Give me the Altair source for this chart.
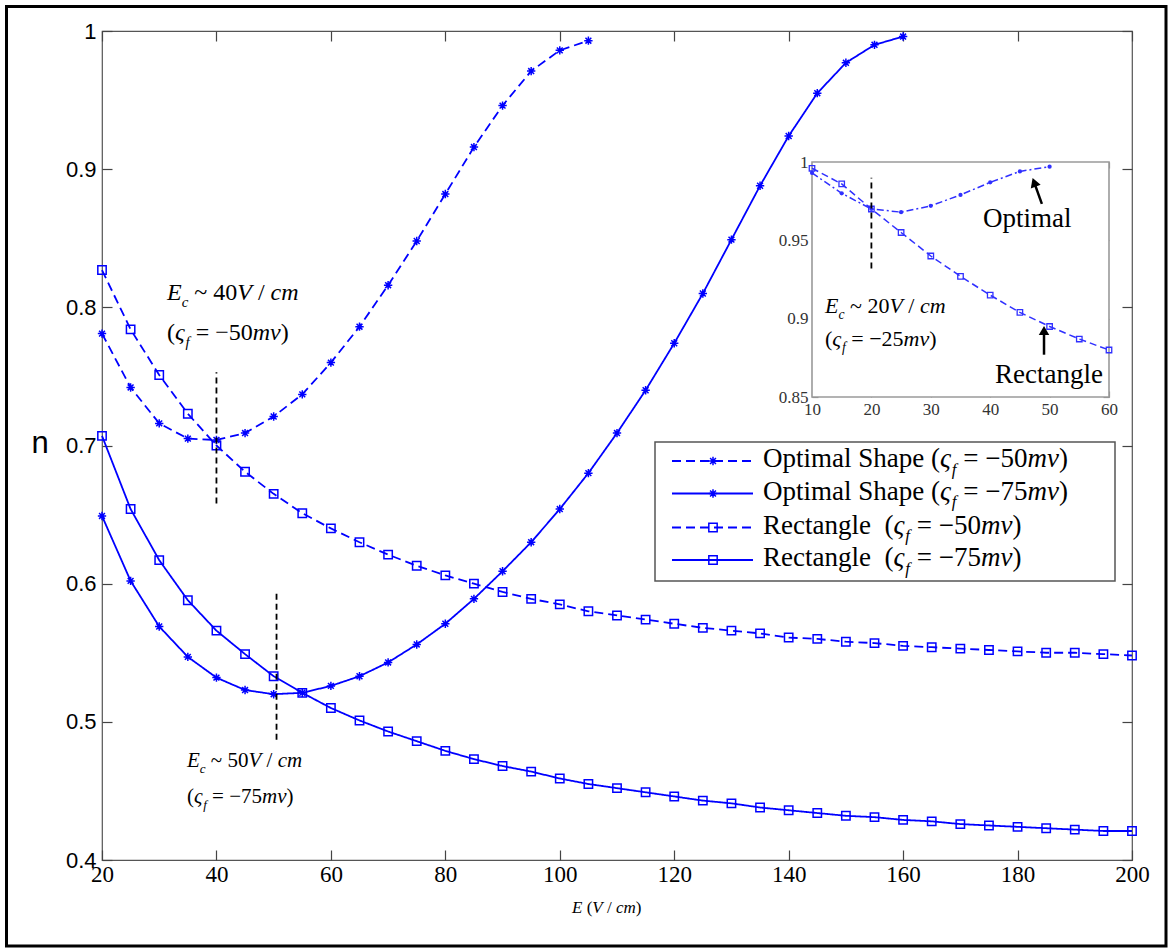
import altair as alt
import pandas as pd

# ---------------------------------------------------------------- data
# electric field E (V/cm) and efficiency n for each geometry / zeta potential
E_OPT_50 = list(range(20, 106, 5))
N_OPT_50 = [0.781, 0.742, 0.716, 0.705, 0.704, 0.709, 0.721, 0.737, 0.760,
            0.786, 0.816, 0.848, 0.882, 0.916, 0.946, 0.971, 0.986, 0.993]

E_OPT_75 = list(range(20, 161, 5))
N_OPT_75 = [0.649, 0.602, 0.569, 0.547, 0.532, 0.523, 0.520, 0.521, 0.526,
            0.533, 0.543, 0.556, 0.571, 0.589, 0.609, 0.630, 0.654, 0.680,
            0.709, 0.740, 0.774, 0.810, 0.849, 0.888, 0.924, 0.955, 0.977,
            0.990, 0.996]

E_RECT = list(range(20, 201, 5))
N_RECT_50 = [0.827, 0.784, 0.751, 0.723, 0.700, 0.681, 0.665, 0.651, 0.640,
             0.630, 0.621, 0.613, 0.606, 0.600, 0.594, 0.589, 0.585, 0.580,
             0.577, 0.574, 0.571, 0.568, 0.566, 0.564, 0.561, 0.560, 0.558,
             0.557, 0.555, 0.554, 0.553, 0.552, 0.551, 0.550, 0.550, 0.549,
             0.548]
N_RECT_75 = [0.707, 0.654, 0.617, 0.588, 0.566, 0.549, 0.533, 0.521, 0.510,
             0.501, 0.493, 0.486, 0.479, 0.473, 0.468, 0.464, 0.459, 0.455,
             0.452, 0.449, 0.446, 0.443, 0.441, 0.438, 0.436, 0.434, 0.432,
             0.431, 0.429, 0.428, 0.426, 0.425, 0.424, 0.423, 0.422, 0.421,
             0.421]

# inset: zeta_f = -25 mV
E_IN_OPT = list(range(10, 51, 5))
N_IN_OPT = [0.993, 0.980, 0.970, 0.968, 0.972, 0.979, 0.987, 0.994, 0.997]
E_IN_RECT = list(range(10, 61, 5))
N_IN_RECT = [0.996, 0.986, 0.970, 0.955, 0.940, 0.927, 0.915, 0.904, 0.895,
             0.887, 0.880]

# axis ticks
X_TICKS = list(range(20, 201, 20))
Y_TICKS = [0.4, 0.5, 0.6, 0.7, 0.8, 0.9, 1.0]
IN_X_TICKS = [10, 20, 30, 40, 50, 60]
IN_Y_TICKS = [0.85, 0.9, 0.95, 1.0]

# critical-field markers (vertical dashed lines)
EC_E = [40, 50.5]
EC_LO = [0.658, 0.487]
EC_HI = [0.753, 0.595]
IN_EC_E = [20]
IN_EC_LO = [0.932]
IN_EC_HI = [0.990]

# inset arrows (tail -> head) pointing at the two curves
ARROW_TAIL_E = [48.7, 49.06]
ARROW_TAIL_N = [0.9733, 0.877]
ARROW_HEAD_E = [47.4, 49.06]
ARROW_HEAD_N = [0.987, 0.8925]
ARROW_ANGLE = [340, 0]

SERIES = [
    ("Optimal Shape -50", "dash", "star", E_OPT_50, N_OPT_50),
    ("Optimal Shape -75", "solid", "star", E_OPT_75, N_OPT_75),
    ("Rectangle -50", "dash", "square", E_RECT, N_RECT_50),
    ("Rectangle -75", "solid", "square", E_RECT, N_RECT_75),
]

# ---------------------------------------------------------------- layout
PAGE_W, PAGE_H = 1171, 951
OX, OY = 102, 31           # plot-area origin on the page
W, H = 1030, 829           # plot-area size
BLUE = "#0000ff"
INSET_BLUE = "#3030ff"
SERIF = "Liberation Serif"
SANS = "Liberation Sans"

# inset placement in plot-area pixels
IN_X0, IN_X1 = 812 - OX, 1109 - OX
IN_Y_TOP, IN_Y_BOT = 162 - OY, 397 - OY

ASTERISK = "M-1,0L1,0M0,-1L0,1M-0.7,-0.7L0.7,0.7M-0.7,0.7L0.7,-0.7"
DASH_SCALE = alt.Scale(domain=["dash", "solid"], range=[[9, 5], [1, 0]])
SHAPE_SCALE = alt.Scale(domain=["star", "square"], range=[ASTERISK, "square"])

MX = alt.Scale(domain=[20, 200], nice=False, zero=False)
MY = alt.Scale(domain=[0.4, 1.0], nice=False, zero=False)
IX = alt.Scale(domain=[10, 60], range=[IN_X0, IN_X1], nice=False, zero=False)
IY = alt.Scale(domain=[0.85, 1.0], range=[IN_Y_BOT, IN_Y_TOP], nice=False, zero=False)

# ---------------------------------------------------------------- rich text helpers
W_NORMAL = {" ": 0.25, "(": 0.333, ")": 0.333, "=": 0.564, "\u2212": 0.564,
            "~": 0.541, "/": 0.278, "O": 0.722, "S": 0.556, "R": 0.667,
            "a": 0.444, "c": 0.444, "e": 0.444, "g": 0.5, "h": 0.5, "i": 0.278,
            "l": 0.278, "m": 0.778, "n": 0.5, "p": 0.5, "t": 0.278}
W_ITALIC = {" ": 0.25, "E": 0.611, "V": 0.611, "c": 0.444, "m": 0.722,
            "v": 0.444, "f": 0.278, "\u03c2": 0.44}


def rich(segments, x0, base, size):
    """Lay out styled pieces left to right; positions are page pixels."""
    rows = []
    x = x0
    for text, style in segments:
        if style == "sub":
            fs, y, face = size * 0.62, base + size * 0.28, "italic"
        else:
            fs, y, face = size, base, ("italic" if style == "i" else "normal")
        table = W_ITALIC if face == "italic" else W_NORMAL
        lead = len(text) - len(text.lstrip(" "))
        x += lead * 0.25 * fs
        core = text.strip(" ")
        rows.append(dict(px=x - OX, py=y - OY, text=core, fs=fs, face=face))
        x += sum(table.get(ch, 0.5) for ch in core) * fs
        x += (len(text.rstrip(" ")) < len(text)) * (len(text) - len(text.rstrip(" "))) * 0.25 * fs
    return rows


def zeta(value):
    return [("(", "n"), ("\u03c2", "i"), ("f", "sub"), (" = \u2212" + value, "n"),
            ("mv", "i"), (")", "n")]


def field(value):
    return [("E", "i"), ("c", "sub"), (" ~ " + value, "n"), ("V", "i"),
            (" / ", "n"), ("cm", "i")]


TEXT_ROWS = []
TEXT_ROWS += rich(field("40"), 167, 300, 24)
TEXT_ROWS += rich(zeta("50"), 167, 340, 24)
TEXT_ROWS += rich(field("50"), 187, 767, 21)
TEXT_ROWS += rich(zeta("75"), 187, 803, 21)
TEXT_ROWS += rich(field("20"), 825, 313, 22)
TEXT_ROWS += rich(zeta("25"), 825, 346, 22)
TEXT_ROWS += rich([("Optimal", "n")], 983, 227, 27)
TEXT_ROWS += rich([("Rectangle", "n")], 995, 383, 27)
TEXT_ROWS += rich([("E", "i"), (" (", "n"), ("V", "i"), (" / ", "n"),
                   ("cm", "i"), (")", "n")], 572, 913, 17)

# legend
LEG_BOX = (655, 442, 1115, 581)
LEG_ROW_Y = [461, 493.5, 527.5, 560]
LEG_LINE_X = (672, 753)
LEG_MARK_X = 713
LEG_TEXT_X = 763
LEG_LABELS = [("Optimal Shape ", "50"), ("Optimal Shape ", "75"),
              ("Rectangle  ", "50"), ("Rectangle  ", "75")]
for (lab, val), ly in zip(LEG_LABELS, LEG_ROW_Y):
    TEXT_ROWS += rich([(lab.replace("  ", " "), "n")] + [(" (" if lab.endswith("  ") else "(", "n")] +
                      zeta(val)[1:], LEG_TEXT_X, ly + 6, 27)

# ---------------------------------------------------------------- frames
blank = pd.DataFrame({"k": [0]})

frame = alt.Chart(blank).mark_rect(fillOpacity=0, stroke="black", strokeWidth=3).encode(
    x=alt.value(6.5 - OX), x2=alt.value(1166 - OX),
    y=alt.value(6.5 - OY), y2=alt.value(946 - OY))

# ---------------------------------------------------------------- main curves
main_rows = []
for name, dash, marker, xs, ys in SERIES:
    for e, n in zip(xs, ys):
        main_rows.append(dict(E=e, n=n, series=name, dash=dash, marker=marker))
df_main = pd.DataFrame(main_rows)

main_lines = alt.Chart(df_main).mark_line(color=BLUE, strokeWidth=1.8).encode(
    x=alt.X("E:Q", scale=MX, axis=None),
    y=alt.Y("n:Q", scale=MY, axis=None),
    detail="series:N",
    strokeDash=alt.StrokeDash("dash:N", scale=DASH_SCALE, legend=None),
)
main_points = alt.Chart(df_main).mark_point(color=BLUE, filled=False, size=70,
                                            strokeWidth=1.5, opacity=1).encode(
    x=alt.X("E:Q", scale=MX, axis=None),
    y=alt.Y("n:Q", scale=MY, axis=None),
    shape=alt.Shape("marker:N", scale=SHAPE_SCALE, legend=None),
)

df_ec = pd.DataFrame({"E": EC_E, "lo": EC_LO, "hi": EC_HI})
ec_rules = alt.Chart(df_ec).mark_rule(color="black", strokeWidth=1.8, strokeDash=[6, 4]).encode(
    x=alt.X("E:Q", scale=MX, axis=None),
    y=alt.Y("lo:Q", scale=MY, axis=None), y2="hi:Q")


# ---------------------------------------------------------------- axes
def axis_layer(xs, ys, xdom, ydom, xaxis, yaxis):
    df = pd.DataFrame({"x": [xdom[0]], "y": [ydom[0]]})
    return alt.Chart(df).mark_point(opacity=0).encode(
        x=alt.X("x:Q", scale=xs, axis=xaxis),
        y=alt.Y("y:Q", scale=ys, axis=yaxis))


def label_axis(orient, offset, values, font, size, pad, color, fmt):
    return alt.Axis(orient=orient, offset=offset, values=values, ticks=False,
                    tickSize=0, domain=False, grid=False, title=None,
                    labelFont=font, labelFontSize=size, labelPadding=pad,
                    labelColor=color, labelFlush=False, labelOverlap=False,
                    labelBound=False, format=fmt)


def tick_axis(orient, offset, values, size, color):
    return alt.Axis(orient=orient, offset=offset, values=values, labels=False,
                    domain=False, grid=False, title=None, ticks=True,
                    tickSize=size, tickColor=color, tickWidth=1.2)


MDX, MDY = [20, 200], [0.4, 1.0]
main_axes = [
    axis_layer(MX, MY, MDX, MDY,
               label_axis("bottom", 0, X_TICKS, SERIF, 23, 3, "black", "d"),
               label_axis("left", 0, Y_TICKS, SANS, 22, 6, "black", "~g")),
    axis_layer(MX, MY, MDX, MDY,
               tick_axis("top", -H, X_TICKS, 10, "#444"),
               tick_axis("right", -W, Y_TICKS, 10, "#444")),
    axis_layer(MX, MY, MDX, MDY,
               tick_axis("bottom", -H, X_TICKS, 10, "#444"),
               tick_axis("left", -W, Y_TICKS, 10, "#444")),
]

# ---------------------------------------------------------------- inset
IDX, IDY = [10, 60], [0.85, 1.0]
df_inbox = pd.DataFrame({"x0": [IDX[0]], "x1": [IDX[1]], "y0": [IDY[0]], "y1": [IDY[1]]})
inset_bg = alt.Chart(df_inbox).mark_rect(fill="white", stroke="#9a9a9a", strokeWidth=1.6).encode(
    x=alt.X("x0:Q", scale=IX, axis=None), x2="x1:Q",
    y=alt.Y("y0:Q", scale=IY, axis=None), y2="y1:Q")

df_in_opt = pd.DataFrame({"E": E_IN_OPT, "n": N_IN_OPT})
df_in_rect = pd.DataFrame({"E": E_IN_RECT, "n": N_IN_RECT})

inset_opt_line = alt.Chart(df_in_opt).mark_line(color=INSET_BLUE, strokeWidth=1.5,
                                                strokeDash=[7, 3, 2, 3]).encode(
    x=alt.X("E:Q", scale=IX, axis=None), y=alt.Y("n:Q", scale=IY, axis=None))
inset_opt_pts = alt.Chart(df_in_opt).mark_point(color=INSET_BLUE, filled=True, size=18,
                                                shape="circle", opacity=1).encode(
    x=alt.X("E:Q", scale=IX, axis=None), y=alt.Y("n:Q", scale=IY, axis=None))
inset_rect_line = alt.Chart(df_in_rect).mark_line(color=INSET_BLUE, strokeWidth=1.5,
                                                  strokeDash=[7, 4]).encode(
    x=alt.X("E:Q", scale=IX, axis=None), y=alt.Y("n:Q", scale=IY, axis=None))
inset_rect_pts = alt.Chart(df_in_rect).mark_point(color=INSET_BLUE, filled=False, size=30,
                                                  shape="square", strokeWidth=1.3,
                                                  opacity=1).encode(
    x=alt.X("E:Q", scale=IX, axis=None), y=alt.Y("n:Q", scale=IY, axis=None))

df_in_ec = pd.DataFrame({"E": IN_EC_E, "lo": IN_EC_LO, "hi": IN_EC_HI})
inset_ec = alt.Chart(df_in_ec).mark_rule(color="black", strokeWidth=1.8, strokeDash=[6, 4]).encode(
    x=alt.X("E:Q", scale=IX, axis=None),
    y=alt.Y("lo:Q", scale=IY, axis=None), y2="hi:Q")

df_arrow = pd.DataFrame({"e0": ARROW_TAIL_E, "n0": ARROW_TAIL_N,
                         "e1": ARROW_HEAD_E, "n1": ARROW_HEAD_N, "ang": ARROW_ANGLE})
arrow_shaft = alt.Chart(df_arrow).mark_rule(color="black", strokeWidth=2.5).encode(
    x=alt.X("e0:Q", scale=IX, axis=None), x2="e1:Q",
    y=alt.Y("n0:Q", scale=IY, axis=None), y2="n1:Q")
arrow_head = alt.Chart(df_arrow).mark_point(color="black", filled=True, shape="triangle-up",
                                            size=110, opacity=1).encode(
    x=alt.X("e1:Q", scale=IX, axis=None),
    y=alt.Y("n1:Q", scale=IY, axis=None),
    angle=alt.Angle("ang:Q", scale=None))

inset_axes = [
    axis_layer(IX, IY, IDX, IDY,
               label_axis("bottom", -(H - IN_Y_BOT), IN_X_TICKS, SERIF, 17, 4, "#333", "d"),
               label_axis("left", -IN_X0, IN_Y_TICKS, SERIF, 17, 4, "#333", "~g")),
    axis_layer(IX, IY, IDX, IDY,
               tick_axis("top", -IN_Y_BOT, IN_X_TICKS, 6, "#888"),
               tick_axis("right", -(W - IN_X0), IN_Y_TICKS, 6, "#888")),
    axis_layer(IX, IY, IDX, IDY,
               tick_axis("bottom", -(H - IN_Y_TOP), IN_X_TICKS, 6, "#888"),
               tick_axis("left", -IN_X1, IN_Y_TICKS, 6, "#888")),
]

# ---------------------------------------------------------------- legend
legend_box = alt.Chart(blank).mark_rect(fill="white", stroke="#555", strokeWidth=1.5).encode(
    x=alt.value(LEG_BOX[0] - OX), x2=alt.value(LEG_BOX[2] - OX),
    y=alt.value(LEG_BOX[1] - OY), y2=alt.value(LEG_BOX[3] - OY))

df_leg = pd.DataFrame({
    "x0": [LEG_LINE_X[0] - OX] * 4,
    "x1": [LEG_LINE_X[1] - OX] * 4,
    "mx": [LEG_MARK_X - OX] * 4,
    "ly": [y - OY for y in LEG_ROW_Y],
    "dash": [s[1] for s in SERIES],
    "marker": [s[2] for s in SERIES],
})
legend_lines = alt.Chart(df_leg).mark_rule(color=BLUE, strokeWidth=1.8).encode(
    x=alt.X("x0:Q", scale=None, axis=None), x2="x1:Q",
    y=alt.Y("ly:Q", scale=None, axis=None),
    strokeDash=alt.StrokeDash("dash:N", scale=DASH_SCALE, legend=None))
legend_marks = alt.Chart(df_leg).mark_point(color=BLUE, filled=False, size=70,
                                            strokeWidth=1.5, opacity=1).encode(
    x=alt.X("mx:Q", scale=None, axis=None),
    y=alt.Y("ly:Q", scale=None, axis=None),
    shape=alt.Shape("marker:N", scale=SHAPE_SCALE, legend=None))

# ---------------------------------------------------------------- text
df_text = pd.DataFrame(TEXT_ROWS)


def text_layer(face):
    return alt.Chart(df_text).transform_filter(alt.datum.face == face).mark_text(
        align="left", baseline="alphabetic", font=SERIF, fontStyle=face, color="black"
    ).encode(
        x=alt.X("px:Q", scale=None, axis=None),
        y=alt.Y("py:Q", scale=None, axis=None),
        text="text:N",
        size=alt.Size("fs:Q", scale=None, legend=None))


y_title = alt.Chart(pd.DataFrame({"t": ["n"]})).mark_text(
    align="center", baseline="alphabetic", font=SANS, fontSize=31, color="black").encode(
    x=alt.value(40 - OX), y=alt.value(453 - OY), text="t:N")

layers = ([frame, main_lines, main_points, ec_rules] + main_axes +
          [inset_bg, inset_rect_line, inset_opt_line, inset_rect_pts, inset_opt_pts,
           inset_ec, arrow_shaft, arrow_head] + inset_axes +
          [legend_box, legend_lines, legend_marks,
           text_layer("normal"), text_layer("italic"), y_title])

chart = alt.layer(*layers).resolve_scale(x="independent", y="independent").properties(
    width=W, height=H,
    autosize=alt.AutoSizeParams(type="none"),
    padding={"left": OX, "top": OY, "right": PAGE_W - OX - W, "bottom": PAGE_H - OY - H},
    background="white",
).configure_view(stroke="#555", strokeWidth=1.2)

chart.save("out.html", embed_options={"renderer": "svg", "actions": False})
